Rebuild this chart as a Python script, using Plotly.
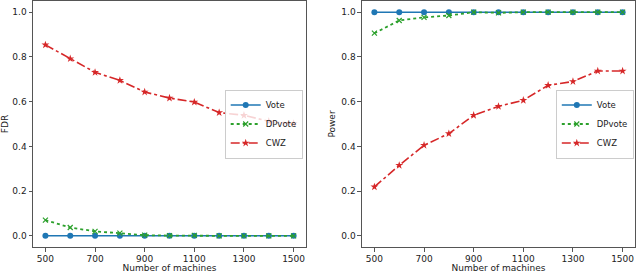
import plotly.graph_objects as go
from plotly.subplots import make_subplots

machines = [500, 600, 700, 800, 900, 1000, 1100, 1200, 1300, 1400, 1500]
x_ticks = [500, 700, 900, 1100, 1300, 1500]

fdr_vote = [0, 0, 0, 0, 0, 0, 0, 0, 0, 0, 0]
fdr_dpvote = [0.070, 0.037, 0.020, 0.012, 0.003, 0.001, 0.002, 0.0, 0.0, 0.0, 0.0]
fdr_cwz = [0.854, 0.792, 0.731, 0.695, 0.643, 0.616, 0.598, 0.551, 0.539, 0.512, 0.502]

pow_vote = [1, 1, 1, 1, 1, 1, 1, 1, 1, 1, 1]
pow_dpvote = [0.906, 0.963, 0.977, 0.985, 1.0, 0.997, 1.0, 1.0, 1.0, 1.0, 1.0]
pow_cwz = [0.219, 0.315, 0.405, 0.457, 0.539, 0.579, 0.606, 0.673, 0.690, 0.737, 0.737]

BLUE, GREEN, RED = "#1f77b4", "#2ca02c", "#d62728"
FONT = "DejaVu Sans"
FS = 9

fig = make_subplots(rows=1, cols=2, horizontal_spacing=0.093)

def add_series(col, vote, dp, cwz, legend):
    fig.add_trace(go.Scatter(x=machines, y=vote, name="Vote", mode="lines+markers",
                             line=dict(color=BLUE, width=1.6),
                             marker=dict(symbol="circle", size=6, color=BLUE),
                             legend=legend), row=1, col=col)
    fig.add_trace(go.Scatter(x=machines, y=dp, name="DPvote", mode="lines+markers",
                             line=dict(color=GREEN, width=1.8, dash="dot"),
                             marker=dict(symbol="x-thin", size=5, color=GREEN,
                                         line=dict(color=GREEN, width=1.2)),
                             legend=legend), row=1, col=col)
    fig.add_trace(go.Scatter(x=machines, y=cwz, name="CWZ", mode="lines+markers",
                             line=dict(color=RED, width=1.6, dash="dashdot"),
                             marker=dict(symbol="star", size=6, color=RED),
                             legend=legend), row=1, col=col)

add_series(1, fdr_vote, fdr_dpvote, fdr_cwz, "legend")
add_series(2, pow_vote, pow_dpvote, pow_cwz, "legend2")

axis_common = dict(showgrid=False, zeroline=False, showline=True, mirror=True,
                   linecolor="#555", linewidth=1, ticks="outside", ticklen=3.5,
                   tickcolor="#555", tickfont=dict(family=FONT, size=FS, color="#222"))

for c in (1, 2):
    fig.update_xaxes(range=[450, 1550], tickvals=x_ticks,
                     title=dict(text="Number of machines", standoff=1,
                                font=dict(family=FONT, size=FS, color="#222")),
                     row=1, col=c, **axis_common)
    fig.update_yaxes(range=[-0.05, 1.05], tickvals=[0, 0.2, 0.4, 0.6, 0.8, 1.0],
                     tickformat=".1f", row=1, col=c, **axis_common)

fig.update_yaxes(title=dict(text="FDR", standoff=4, font=dict(family=FONT, size=FS, color="#222")), row=1, col=1)
fig.update_yaxes(title=dict(text="Power", standoff=4, font=dict(family=FONT, size=FS, color="#222")), row=1, col=2)

leg_common = dict(bgcolor="rgba(255,255,255,0.8)", bordercolor="#ccc", borderwidth=1,
                  font=dict(family=FONT, size=8.5, color="#222"), tracegroupgap=0,
                  itemwidth=30, yanchor="middle", xanchor="right", y=0.5)

fig.update_layout(
    width=640, height=273,
    margin=dict(l=33, r=5, t=1, b=26),
    paper_bgcolor="white", plot_bgcolor="white",
    legend=dict(x=0.448, **leg_common),
    legend2=dict(x=0.998, **leg_common),
    font=dict(family=FONT),
)

fig.write_html("out.html", config={"displayModeBar": False},
               post_script="document.body.style.margin='0';document.body.style.overflow='hidden';")
